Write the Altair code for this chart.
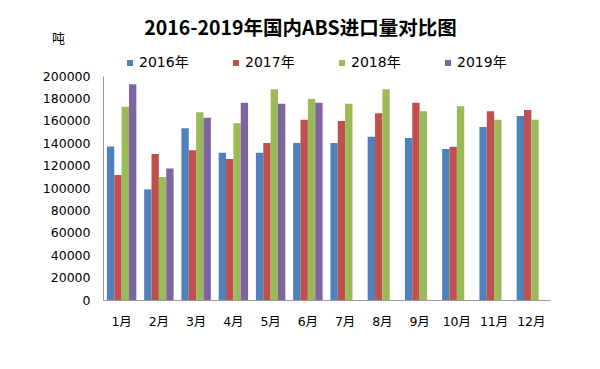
import altair as alt
import pandas as pd

months = ["1月", "2月", "3月", "4月", "5月", "6月", "7月", "8月", "9月", "10月", "11月", "12月"]
years = ["2016年", "2017年", "2018年", "2019年"]
colors = ["#4F81BD", "#C0504D", "#9BBB59", "#8064A2"]

v2016 = [137000, 98800, 153300, 131500, 131500, 140200, 140200, 145800, 144600, 134800, 154500, 164300]
v2017 = [111600, 130400, 133700, 125900, 140200, 161000, 159800, 166700, 176200, 136900, 168500, 169600]
v2018 = [172600, 109800, 167600, 157800, 188100, 179500, 175300, 188100, 168500, 172900, 161000, 161000]
v2019 = [192600, 117300, 162800, 176200, 175300, 176200, None, None, None, None, None, None]

rows = []
for y, vals in zip(years, [v2016, v2017, v2018, v2019]):
    for m, v in zip(months, vals):
        if v is not None:
            rows.append({"月份": m, "年份": y, "进口量": v})
df = pd.DataFrame(rows)

FONT = "DejaVu Sans, Noto Sans CJK SC"

bars = alt.Chart(df).mark_bar().encode(
    x=alt.X("月份:N", sort=months, scale=alt.Scale(paddingInner=0.21, paddingOuter=0.105),
            axis=alt.Axis(title=None, labelAngle=0, ticks=False, labelPadding=15,
                          domainColor="#999999", labelFont=FONT, labelFontSize=12.5,
                          labelColor="#000000")),
    xOffset=alt.XOffset("年份:N", sort=years, scale=alt.Scale(domain=years, paddingInner=0, paddingOuter=0)),
    y=alt.Y("进口量:Q", scale=alt.Scale(domain=[0, 200000], nice=False),
            axis=alt.Axis(title="吨", titleAngle=0, titleX=-45, titleY=-38,
                          titleAlign="center", titleBaseline="middle",
                          titleFont=FONT, titleFontSize=13, titleFontWeight="normal",
                          titleColor="#000000",
                          values=list(range(0, 200001, 20000)), format="d",
                          ticks=False, labelPadding=13, grid=False,
                          domainColor="#999999", labelFont=FONT, labelFontSize=12.5,
                          labelColor="#000000")),
    color=alt.Color("年份:N", sort=years, scale=alt.Scale(domain=years, range=colors),
                    legend=alt.Legend(title=None, orient="none", direction="horizontal",
                                      legendX=20, legendY=-20, columns=4, columnPadding=40,
                                      symbolType="square", symbolSize=36, symbolStrokeWidth=0,
                                      labelOffset=2, labelFont=FONT, labelFontSize=14,
                                      labelColor="#000000", padding=0)),
)

chart = bars.properties(
    width=447,
    height=224,
    autosize=alt.AutoSizeParams(type="none"),
    padding={"left": 95, "top": 68, "right": 42, "bottom": 61},
    title=alt.TitleParams("2016-2019年国内ABS进口量对比图", font="Noto Sans CJK SC",
                          fontSize=19.5, fontWeight="bold", color="#000000",
                          anchor="middle", dx=-26, offset=-7),
).configure_view(stroke=None)

chart.save("out.html", embed_options={"renderer": "svg", "actions": False})
